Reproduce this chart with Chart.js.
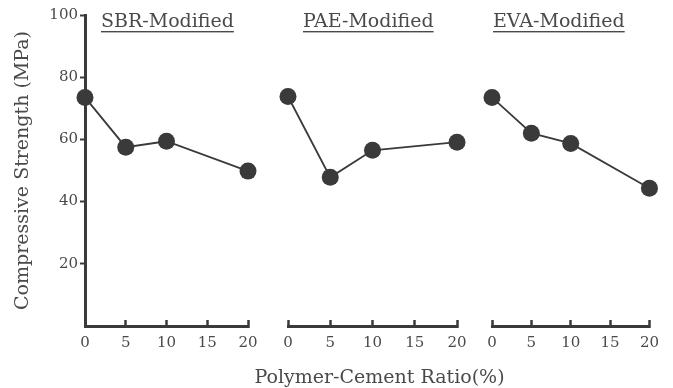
<!DOCTYPE html>
<html>
<head>
<meta charset="utf-8">
<script src="https://cdn.jsdelivr.net/npm/chart.js@4.4.1/dist/chart.umd.min.js"></script>
<style>
  html, body { margin: 0; padding: 0; background: #fff; }
  #wrap { position: relative; width: 673px; height: 388px; }
  #wrap canvas { position: absolute; left: 0; top: 0; }
</style>
</head>
<body>
<div id="wrap">
  <canvas id="sbrChart" width="673" height="388"></canvas>
  <canvas id="paeChart" width="673" height="388"></canvas>
  <canvas id="evaChart" width="673" height="388"></canvas>
</div>
<script>
// polymer-cement ratio (%) vs compressive strength (MPa)
const ratios = [0, 5, 10, 20];
const xTicks = [0, 5, 10, 15, 20];
const yTicks = [20, 40, 60, 80, 100];

const sbrStrength = [73.5, 57.5, 59.4, 49.8];
const paeStrength = [73.8, 47.8, 56.5, 59.1];
const evaStrength = [73.5, 62.0, 58.7, 44.3];

const panelTitles = ['SBR-Modified', 'PAE-Modified', 'EVA-Modified'];
const xTitle = 'Polymer-Cement Ratio(%)';
const yTitle = 'Compressive Strength (MPa)';

const INK = '#3a3a3a';
const TEXT = '#4a4a4a';
const SERIF = 'DejaVu Serif';

// underlined panel title + (optionally) the shared x title under the middle panel
const panelText = {
  id: 'panelText',
  afterDraw(chart, args, opts) {
    const { ctx, chartArea } = chart;
    ctx.save();
    ctx.font = opts.size + 'px "' + SERIF + '"';
    ctx.fillStyle = TEXT;
    ctx.textBaseline = 'alphabetic';
    const x = chartArea.left + opts.offset;
    const w = ctx.measureText(opts.text).width;
    ctx.textAlign = 'left';
    ctx.fillText(opts.text, x, opts.baseline);
    ctx.fillRect(x, opts.baseline + 4, w, 1.4);
    if (opts.bottomText) {
      ctx.textAlign = 'center';
      const cx = (chartArea.left + chartArea.right) / 2 + opts.bottomShift;
      ctx.fillText(opts.bottomText, cx, opts.bottomBaseline);
    }
    ctx.restore();
  }
};

function dibujarPanel(id, titulo, valores, cfg) {
  const canvas = document.getElementById(id);
  return new Chart(canvas, {
    type: 'line',
    data: {
      datasets: [{
        data: ratios.map((r, i) => ({ x: r, y: valores[i] })),
        borderColor: INK,
        borderWidth: 1.8,
        pointRadius: 8.5,
        pointHoverRadius: 8.5,
        pointBackgroundColor: INK,
        pointBorderColor: INK,
        pointBorderWidth: 0,
        tension: 0,
        clip: false,
      }]
    },
    options: {
      responsive: false,
      animation: false,
      events: [],
      layout: { padding: { left: cfg.left, right: cfg.right, top: 15, bottom: 0 } },
      plugins: {
        legend: { display: false },
        tooltip: { enabled: false },
        panelText: {
          text: titulo, offset: cfg.titleOffset, baseline: 27, size: 19,
          bottomText: cfg.xTitle ? xTitle : null, bottomShift: 7, bottomBaseline: 383
        }
      },
      scales: {
        x: {
          type: 'linear',
          min: 0,
          max: 20,
          afterBuildTicks: s => { s.ticks = xTicks.map(v => ({ value: v })); },
          border: { color: INK, width: 3 },
          grid: { drawOnChartArea: false, tickLength: -6, tickWidth: 2.5, tickColor: INK },
          ticks: { font: { family: SERIF, size: 15 }, color: TEXT, padding: 14, maxRotation: 0 },
          afterFit: s => { s.height = 62; }
        },
        y: {
          display: cfg.showY,
          min: 0,
          max: 100,
          afterBuildTicks: s => { s.ticks = yTicks.map(v => ({ value: v })); },
          border: { color: INK, width: 3 },
          grid: { drawOnChartArea: false, tickLength: 5, tickWidth: 2, tickColor: INK },
          ticks: { font: { family: SERIF, size: 15 }, color: TEXT, padding: 2 },
          title: {
            display: true,
            text: yTitle,
            font: { family: SERIF, size: 19 },
            color: TEXT,
            padding: { top: 12, bottom: 0 }
          },
          afterFit: s => { if (cfg.showY) s.width = 85; }
        }
      }
    },
    plugins: [panelText]
  });
}

dibujarPanel('sbrChart', panelTitles[0], sbrStrength, { left: 0, right: 425, showY: true, titleOffset: 16 });
dibujarPanel('paeChart', panelTitles[1], paeStrength, { left: 288, right: 216, showY: false, titleOffset: 15, xTitle: true });
dibujarPanel('evaChart', panelTitles[2], evaStrength, { left: 492, right: 16, showY: false, titleOffset: 1 });
</script>
</body>
</html>
